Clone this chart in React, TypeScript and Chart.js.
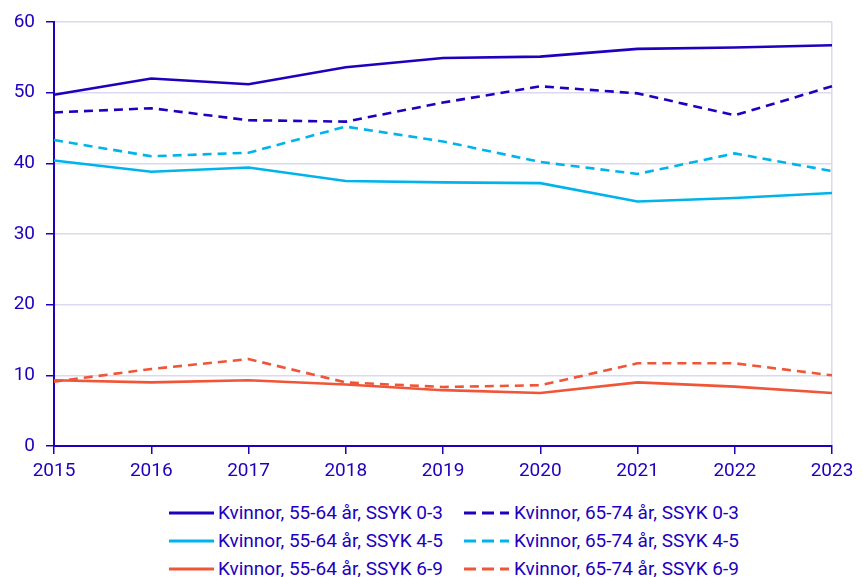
import React, { useEffect, useRef } from 'react';
import { Chart, registerables } from 'chart.js';
Chart.register(...registerables);

const years = ['2015', '2016', '2017', '2018', '2019', '2020', '2021', '2022', '2023'];
const k5564_03 = [49.7, 52.0, 51.2, 53.6, 54.9, 55.1, 56.2, 56.4, 56.7];
const k6574_03 = [47.2, 47.8, 46.1, 45.9, 48.6, 50.9, 49.9, 46.8, 50.9];
const k5564_45 = [40.4, 38.8, 39.4, 37.5, 37.3, 37.2, 34.6, 35.1, 35.8];
const k6574_45 = [43.3, 41.0, 41.5, 45.2, 43.1, 40.2, 38.5, 41.4, 38.9];
const k5564_69 = [9.3, 9.0, 9.3, 8.7, 7.9, 7.5, 9.0, 8.4, 7.5];
const k6574_69 = [9.1, 10.9, 12.3, 9.0, 8.35, 8.6, 11.7, 11.7, 10.0];
const labels = [
  'Kvinnor, 55-64 år, SSYK 0-3',
  'Kvinnor, 65-74 år, SSYK 0-3',
  'Kvinnor, 55-64 år, SSYK 4-5',
  'Kvinnor, 65-74 år, SSYK 4-5',
  'Kvinnor, 55-64 år, SSYK 6-9',
  'Kvinnor, 65-74 år, SSYK 6-9',
];

const DARK = '#1e00be';
const LIGHT = '#00b4eb';
const ORANGE = '#f05537';
const GRID = '#d9d9f2';
const FONT = 'Roboto';
const DASH = [9, 6];

const seriesDefs = [
  { label: labels[0], data: k5564_03, color: DARK, dashed: false },
  { label: labels[1], data: k6574_03, color: DARK, dashed: true },
  { label: labels[2], data: k5564_45, color: LIGHT, dashed: false },
  { label: labels[3], data: k6574_45, color: LIGHT, dashed: true },
  { label: labels[4], data: k5564_69, color: ORANGE, dashed: false },
  { label: labels[5], data: k6574_69, color: ORANGE, dashed: true },
];

export default function App() {
  const ref = useRef<HTMLCanvasElement | null>(null);
  useEffect(() => {
    if (!ref.current) return;
    const chart = new Chart(ref.current, {
      type: 'line',
      data: {
        labels: years,
        datasets: seriesDefs.map((s) => ({
          label: s.label,
          data: s.data,
          borderColor: s.color,
          backgroundColor: s.color,
          borderWidth: 2.6,
          borderDash: s.dashed ? DASH : [],
          pointRadius: 0,
          tension: 0,
          fill: false,
        })),
      },
      options: {
        animation: false,
        responsive: true,
        maintainAspectRatio: false,
        layout: { padding: { top: 14, right: 23, left: 0, bottom: 0 } },
        plugins: { legend: { display: false }, tooltip: { enabled: false } },
        scales: {
          x: {
            offset: false,
            grid: {
              color: (ctx: any) => (ctx.index === years.length - 1 ? GRID : 'rgba(0,0,0,0)'),
              tickColor: DARK,
              tickLength: 8,
              tickWidth: 1.5,
              lineWidth: 1.5,
              drawOnChartArea: true,
            },
            border: { color: DARK, width: 2 },
            ticks: {
              color: DARK,
              font: { family: FONT, size: 19 },
              padding: 6,
              maxRotation: 0,
              autoSkip: false,
            },
            afterFit: (scale: any) => {
              scale.height = 53;
              scale.paddingLeft = 0;
              scale.paddingRight = 0;
            },
          },
          y: {
            min: 0,
            max: 60,
            grid: { color: GRID, tickColor: DARK, tickLength: 8, tickWidth: 1.5, lineWidth: 1.5 },
            border: { color: DARK, width: 2 },
            ticks: {
              stepSize: 10,
              color: DARK,
              font: { family: FONT, size: 19 },
              padding: 11,
            },
            afterFit: (scale: any) => {
              scale.width = 46;
              scale.paddingTop = 0;
              scale.paddingBottom = 0;
            },
          },
        },
      },
    });
    return () => chart.destroy();
  }, []);

  const positions = [
    { left: 161, center: 505, gap: 4 },
    { left: 456, center: 505, gap: 5 },
    { left: 161, center: 533, gap: 4 },
    { left: 456, center: 533, gap: 5 },
    { left: 161, center: 561, gap: 4 },
    { left: 456, center: 561, gap: 5 },
  ];

  return (
    <div style={{ position: 'relative', width: 847, height: 569 }}>
      <div style={{ position: 'absolute', left: 0, top: 0, width: 847, height: 491 }}>
        <canvas ref={ref} />
      </div>
      {seriesDefs.map((s, i) => {
        const p = positions[i];
        return (
          <div
            key={i}
            style={{
              position: 'absolute',
              left: p.left,
              top: p.center - 12,
              height: 24,
              display: 'flex',
              alignItems: 'center',
              whiteSpace: 'nowrap',
              fontFamily: FONT,
              fontSize: 19,
              lineHeight: '24px',
              color: DARK,
            }}
          >
            <svg width={45} height={6} style={{ display: 'block' }}>
              {s.dashed ? (
                <line x1={0} y1={3} x2={45} y2={3} stroke={s.color} strokeWidth={3} strokeDasharray="12 6" />
              ) : (
                <line x1={0} y1={3} x2={45} y2={3} stroke={s.color} strokeWidth={3} />
              )}
            </svg>
            <span style={{ marginLeft: p.gap }}>{s.label}</span>
          </div>
        );
      })}
    </div>
  );
}
